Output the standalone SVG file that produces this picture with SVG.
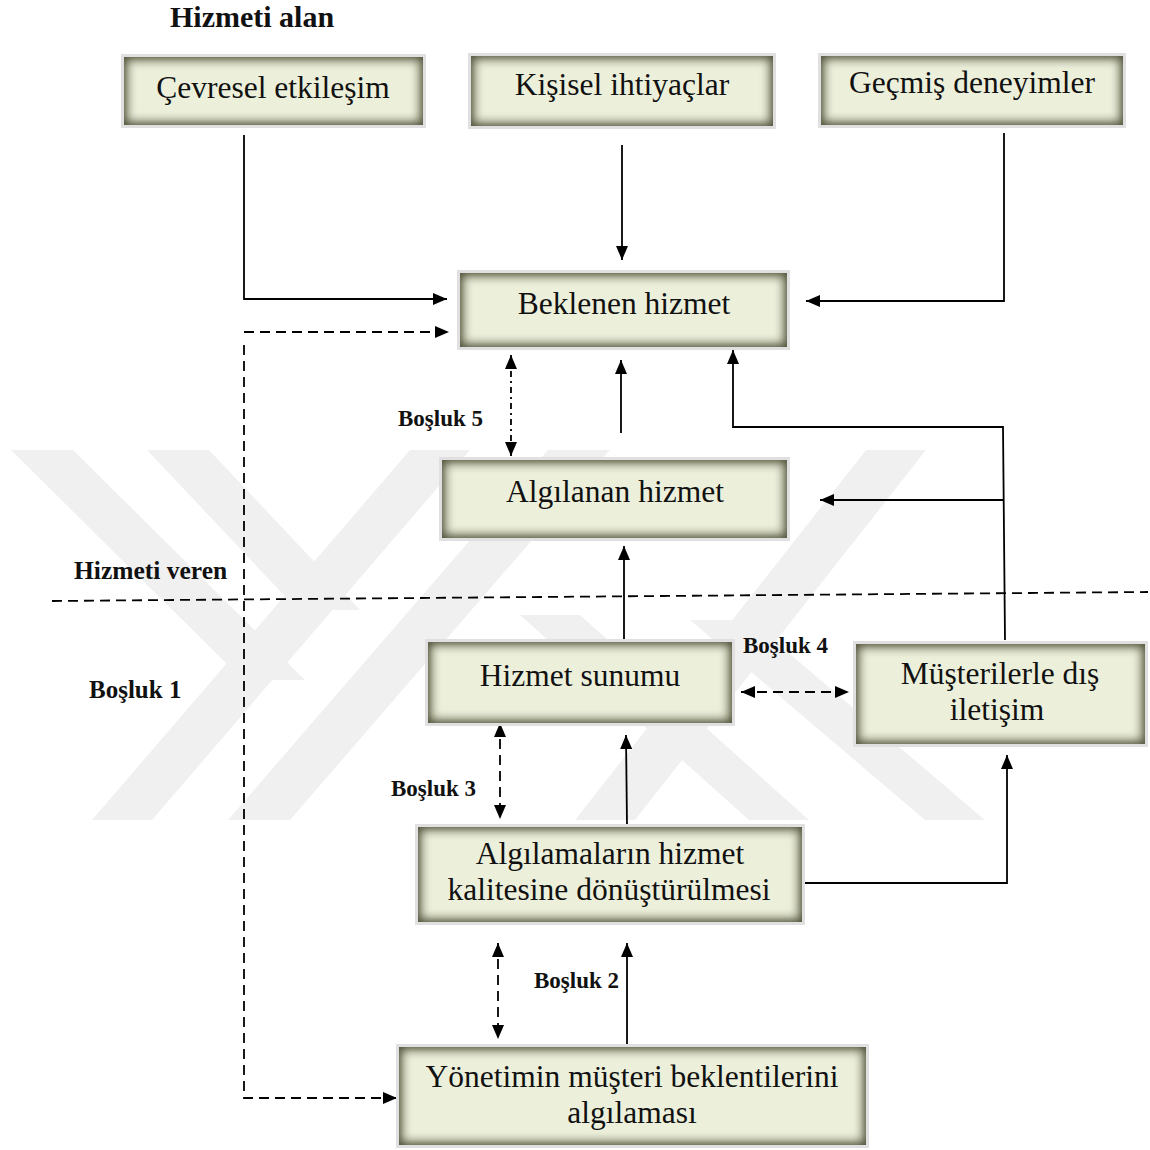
<svg xmlns="http://www.w3.org/2000/svg" width="1150" height="1150" viewBox="0 0 1150 1150">
<style>
.box{fill:#ecf0db;}
.rim{fill:none;stroke:#e0e0e0;stroke-width:6;}
.t{font-family:"Liberation Serif","Times New Roman",serif;font-size:31.5px;fill:#111;text-anchor:middle;}
.b{font-family:"Liberation Serif","Times New Roman",serif;font-weight:bold;fill:#111;}
.ln{fill:none;stroke:#000;stroke-width:1.8;}
.dash{fill:none;stroke:#000;stroke-width:1.8;stroke-dasharray:10 6;}
.dd{fill:none;stroke:#000;stroke-width:1.8;stroke-dasharray:6 4 2 4;}
.wm{fill:#f0f0f0;}
</style>
<defs>
<filter id="inner" x="-10%" y="-25%" width="120%" height="150%" color-interpolation-filters="sRGB">
<feFlood flood-color="#52523a" flood-opacity="1" result="f"/>
<feComposite in="f" in2="SourceAlpha" operator="out" result="o"/>
<feGaussianBlur in="o" stdDeviation="6" result="bl"/>
<feComposite in="bl" in2="SourceAlpha" operator="in" result="inr"/>
<feMerge><feMergeNode in="SourceGraphic"/><feMergeNode in="inr"/><feMergeNode in="inr"/></feMerge>
</filter>
<marker id="ah" viewBox="0 0 14 12" refX="14" refY="6" markerWidth="14" markerHeight="12" markerUnits="userSpaceOnUse" orient="auto-start-reverse">
<path d="M0,0 L14,6 L0,12 Z" fill="#000"/>
</marker>
</defs>
<rect width="1150" height="1150" fill="#fff"/>
<g id="watermark">
<polygon class="wm" points="11,450 73,450 305,680 243,680"/>
<polygon class="wm" points="147,450 209,450 360,610 298,610"/>
<polygon class="wm" points="92,820 152,820 470,450 410,450"/>
<polygon class="wm" points="228,820 290,820 610,450 548,450"/>
<polygon class="wm" points="575,820 635,820 926,450 866,450"/>
<polygon class="wm" points="690,620 750,620 985,820 925,820"/>
<polygon class="wm" points="520,615 580,615 809,820 749,820"/>
</g>

<g id="labels">
<text class="b" x="170" y="27" font-size="30">Hizmeti alan</text>
<text class="b" x="74" y="579" font-size="25.5">Hizmeti veren</text>
<text class="b" x="89" y="698" font-size="25">Boşluk 1</text>
<text class="b" x="398" y="426" font-size="23">Boşluk 5</text>
<text class="b" x="743" y="653" font-size="23">Boşluk 4</text>
<text class="b" x="391" y="796" font-size="23">Boşluk 3</text>
<text class="b" x="534" y="988" font-size="23">Boşluk 2</text>
</g>

<g id="connectors">
<line class="dash" x1="52" y1="601" x2="1148" y2="592" stroke-width="2" stroke-dasharray="14 8"/>
<polyline class="ln" points="244,135 244,299 447,299" marker-end="url(#ah)"/>
<line class="ln" x1="622" y1="145" x2="622" y2="260" marker-end="url(#ah)"/>
<polyline class="ln" points="1004,133 1004,301 806,301" marker-end="url(#ah)"/>
<line class="dash" x1="244" y1="332" x2="449" y2="332" marker-end="url(#ah)"/>
<polyline class="dash" points="244,345 244,1098 397,1098" marker-end="url(#ah)"/>
<line class="dd" x1="511" y1="355" x2="511" y2="456" marker-start="url(#ah)" marker-end="url(#ah)"/>
<line class="ln" x1="621" y1="433" x2="621" y2="360" marker-end="url(#ah)"/>
<polyline class="ln" points="1005,640 1003,427 733,427 733,350" marker-end="url(#ah)"/>
<line class="ln" x1="1004" y1="500" x2="820" y2="500" marker-end="url(#ah)"/>
<line class="ln" x1="624" y1="640" x2="624" y2="546" marker-end="url(#ah)"/>
<line class="dash" x1="741" y1="692" x2="849" y2="692" marker-start="url(#ah)" marker-end="url(#ah)"/>
<line class="dash" x1="500" y1="723" x2="500" y2="819" marker-start="url(#ah)" marker-end="url(#ah)"/>
<line class="ln" x1="627" y1="826" x2="626" y2="735" marker-end="url(#ah)"/>
<polyline class="ln" points="803,883 1007,883 1007,755" marker-end="url(#ah)"/>
<line class="dash" x1="498" y1="943" x2="498" y2="1039" marker-start="url(#ah)" marker-end="url(#ah)"/>
<line class="ln" x1="627" y1="1045" x2="627" y2="943" marker-end="url(#ah)"/>
</g>

<g id="n1"><rect class="rim" x="124" y="57" width="299" height="68"/><rect class="box" filter="url(#inner)" x="124" y="57" width="299" height="68"/><text class="t" x="273" y="98">Çevresel etkileşim</text></g>
<g id="n2"><rect class="rim" x="471" y="56" width="302" height="70"/><rect class="box" filter="url(#inner)" x="471" y="56" width="302" height="70"/><text class="t" x="622" y="95">Kişisel ihtiyaçlar</text></g>
<g id="n3"><rect class="rim" x="821" y="56" width="302" height="69"/><rect class="box" filter="url(#inner)" x="821" y="56" width="302" height="69"/><text class="t" x="972" y="93">Geçmiş deneyimler</text></g>
<g id="n4"><rect class="rim" x="460" y="273" width="327" height="74"/><rect class="box" filter="url(#inner)" x="460" y="273" width="327" height="74"/><text class="t" x="624" y="314">Beklenen hizmet</text></g>
<g id="n5"><rect class="rim" x="442" y="460" width="345" height="78"/><rect class="box" filter="url(#inner)" x="442" y="460" width="345" height="78"/><text class="t" x="615" y="502">Algılanan hizmet</text></g>
<g id="n6"><rect class="rim" x="428" y="642" width="304" height="81"/><rect class="box" filter="url(#inner)" x="428" y="642" width="304" height="81"/><text class="t" x="580" y="686">Hizmet sunumu</text></g>
<g id="n7"><rect class="rim" x="856" y="644" width="289" height="100"/><rect class="box" filter="url(#inner)" x="856" y="644" width="289" height="100"/><text class="t" x="1000" y="684">Müşterilerle dış</text><text class="t" x="997" y="720">iletişim</text></g>
<g id="n8"><rect class="rim" x="418" y="827" width="384" height="95"/><rect class="box" filter="url(#inner)" x="418" y="827" width="384" height="95"/><text class="t" x="610" y="864">Algılamaların hizmet</text><text class="t" x="609" y="900">kalitesine dönüştürülmesi</text></g>
<g id="n9"><rect class="rim" x="399" y="1047" width="467" height="98"/><rect class="box" filter="url(#inner)" x="399" y="1047" width="467" height="98"/><text class="t" x="632" y="1087">Yönetimin müşteri beklentilerini</text><text class="t" x="632" y="1123">algılaması</text></g>
</svg>
